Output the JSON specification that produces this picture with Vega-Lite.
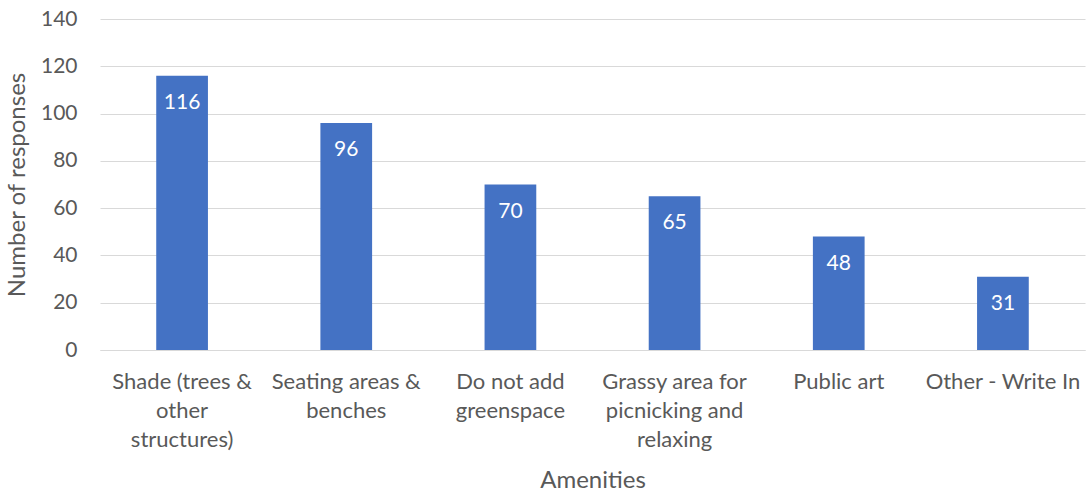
{
  "$schema": "https://vega.github.io/schema/vega-lite/v6.json",
  "autosize": {"type": "none"},
  "padding": {"left": 100, "top": 19, "right": 1, "bottom": 142},
  "width": 985,
  "height": 331,
  "background": "white",
  "config": {
    "font": "Lato",
    "view": {"stroke": null},
    "axis": {"labelFont": "Lato", "titleFont": "Lato", "labelColor": "#595959", "titleColor": "#595959"}
  },
  "data": {
    "values": [
      {"amenity": "Shade (trees &|other|structures)", "responses": 116},
      {"amenity": "Seating areas &|benches", "responses": 96},
      {"amenity": "Do not add|greenspace", "responses": 70},
      {"amenity": "Grassy area for|picnicking and|relaxing", "responses": 65},
      {"amenity": "Public art", "responses": 48},
      {"amenity": "Other - Write In", "responses": 31}
    ]
  },
  "encoding": {
    "x": {
      "field": "amenity",
      "type": "nominal",
      "sort": null,
      "scale": {"paddingInner": 0.685, "paddingOuter": 0.3425},
      "axis": {
        "title": "Amenities",
        "titleFontSize": 24,
        "titleFontWeight": "normal",
        "titlePadding": 18,
        "labelAngle": 0,
        "labelFontSize": 22,
        "labelLineHeight": 29,
        "labelPadding": 21,
        "labelLimit": 200,
        "labelExpr": "split(datum.label, '|')",
        "ticks": false,
        "domainColor": "#d9d9d9",
        "domainWidth": 1,
        "grid": false
      }
    },
    "y": {
      "field": "responses",
      "type": "quantitative",
      "scale": {"domain": [0, 140]},
      "axis": {
        "title": "Number of responses",
        "titleFontSize": 24,
        "titleFontWeight": "normal",
        "titlePadding": 11,
        "values": [0, 20, 40, 60, 80, 100, 120, 140],
        "labelFontSize": 21,
        "labelPadding": 23,
        "ticks": false,
        "domain": false,
        "gridColor": "#d9d9d9",
        "gridWidth": 1
      }
    }
  },
  "layer": [
    {"mark": {"type": "bar", "color": "#4472c4"}},
    {
      "mark": {"type": "text", "color": "white", "fontSize": 21, "baseline": "middle", "dy": 27, "font": "Lato"},
      "encoding": {"text": {"field": "responses", "type": "quantitative"}}
    }
  ]
}
